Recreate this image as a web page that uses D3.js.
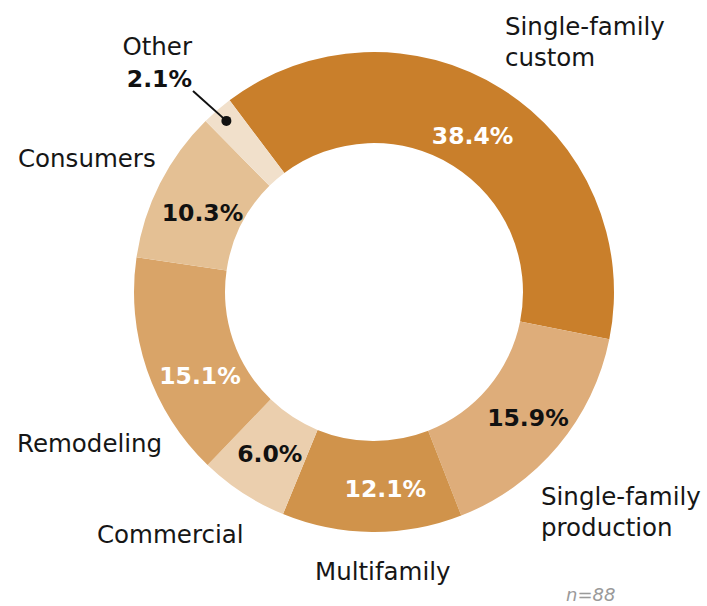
<!DOCTYPE html>
<html>
<head>
<meta charset="utf-8">
<script src="https://cdn.jsdelivr.net/npm/d3@7"></script>
<style>
  html, body { margin: 0; padding: 0; background: #fff; }
  svg { display: block; }
  text { font-family: "DejaVu Sans", sans-serif; }
</style>
</head>
<body>
<svg id="chart" width="707" height="606"></svg>
<script>
// Share of respondents by primary market segment
const categories = ["Single-family custom", "Single-family production", "Multifamily", "Commercial", "Remodeling", "Consumers", "Other"];
const shares = [38.4, 15.9, 12.1, 6.0, 15.1, 10.3, 2.1];
const sampleSize = 88;

const palette = ["#C97F2B", "#DEAD7A", "#D0934B", "#EBCFAE", "#D9A468", "#E4C094", "#F1E0CB"];
const valueInk = ["#ffffff", "#111111", "#ffffff", "#111111", "#ffffff", "#111111", "#111111"];

const width = 707, height = 606;
const cx = 374, cy = 292;
const outerR = 240, innerR = 149;
const startAngle = -37 * Math.PI / 180;

const svg = d3.select("#chart");
const g = svg.append("g").attr("transform", `translate(${cx},${cy})`);

const rows = categories.map((c, i) => ({ category: c, value: shares[i], i }));

const pie = d3.pie()
  .value(d => d.value)
  .sort(null)
  .startAngle(startAngle)
  .endAngle(startAngle + 2 * Math.PI);

const arc = d3.arc().innerRadius(innerR).outerRadius(outerR);
const arcs = pie(rows);

g.selectAll("path.slice")
  .data(arcs)
  .join("path")
  .attr("class", "slice")
  .attr("d", arc)
  .attr("fill", d => palette[d.data.i]);

// In-ring value labels, nudged off the centroid where the ring is tight
const valueNudge = {
  "Single-family custom": [-5, 8],
  "Single-family production": [5, 0],
  "Multifamily": [13, 2],
  "Commercial": [2, -1],
  "Remodeling": [10, 21],
  "Consumers": [2, 8]
};

const fmt = v => v.toFixed(1) + "%";

g.selectAll("text.value")
  .data(arcs.filter(d => d.data.category !== "Other"))
  .join("text")
  .attr("class", "value")
  .attr("transform", d => {
    const [x, y] = arc.centroid(d);
    const n = valueNudge[d.data.category] || [0, 0];
    return `translate(${x + n[0]},${y + n[1]})`;
  })
  .attr("text-anchor", "middle")
  .attr("dy", "0.36em")
  .attr("font-size", 23.5)
  .attr("font-weight", "bold")
  .attr("fill", d => valueInk[d.data.i])
  .text(d => fmt(d.data.value));

// Category names around the ring
const nameLayout = {
  "Single-family custom": { x: 505, y: 35, lines: ["Single-family", "custom"], anchor: "start" },
  "Single-family production": { x: 541, y: 505, lines: ["Single-family", "production"], anchor: "start" },
  "Multifamily": { x: 315, y: 580, lines: ["Multifamily"], anchor: "start" },
  "Commercial": { x: 97, y: 543, lines: ["Commercial"], anchor: "start" },
  "Remodeling": { x: 17, y: 452, lines: ["Remodeling"], anchor: "start" },
  "Consumers": { x: 18, y: 167, lines: ["Consumers"], anchor: "start" },
  "Other": { x: 192, y: 55, lines: ["Other"], anchor: "end" }
};

categories.forEach(c => {
  const L = nameLayout[c];
  const t = svg.append("text")
    .attr("x", L.x).attr("y", L.y)
    .attr("text-anchor", L.anchor)
    .attr("font-size", 24.5)
    .attr("fill", "#161616");
  L.lines.forEach((ln, k) => {
    t.append("tspan").attr("x", L.x).attr("dy", k === 0 ? 0 : 31).text(ln);
  });
});

// "Other" is too thin for an inside label: value sits outside with a leader
const other = arcs.find(d => d.data.category === "Other");
const midA = (other.startAngle + other.endAngle) / 2;
const dotR = 226;
const dotX = cx + dotR * Math.sin(midA);
const dotY = cy - dotR * Math.cos(midA);

svg.append("text")
  .attr("x", 192).attr("y", 87)
  .attr("text-anchor", "end")
  .attr("font-size", 23.5)
  .attr("font-weight", "bold")
  .attr("fill", "#111")
  .text(fmt(other.data.value));

svg.append("line")
  .attr("x1", 193).attr("y1", 91)
  .attr("x2", dotX).attr("y2", dotY)
  .attr("stroke", "#111")
  .attr("stroke-width", 2);

svg.append("circle")
  .attr("cx", dotX).attr("cy", dotY)
  .attr("r", 5)
  .attr("fill", "#111");

// Sample size note
svg.append("text")
  .attr("x", 566).attr("y", 601)
  .attr("font-size", 18)
  .attr("font-style", "italic")
  .attr("fill", "#9a9a9a")
  .text("n=" + sampleSize);
</script>
</body>
</html>
